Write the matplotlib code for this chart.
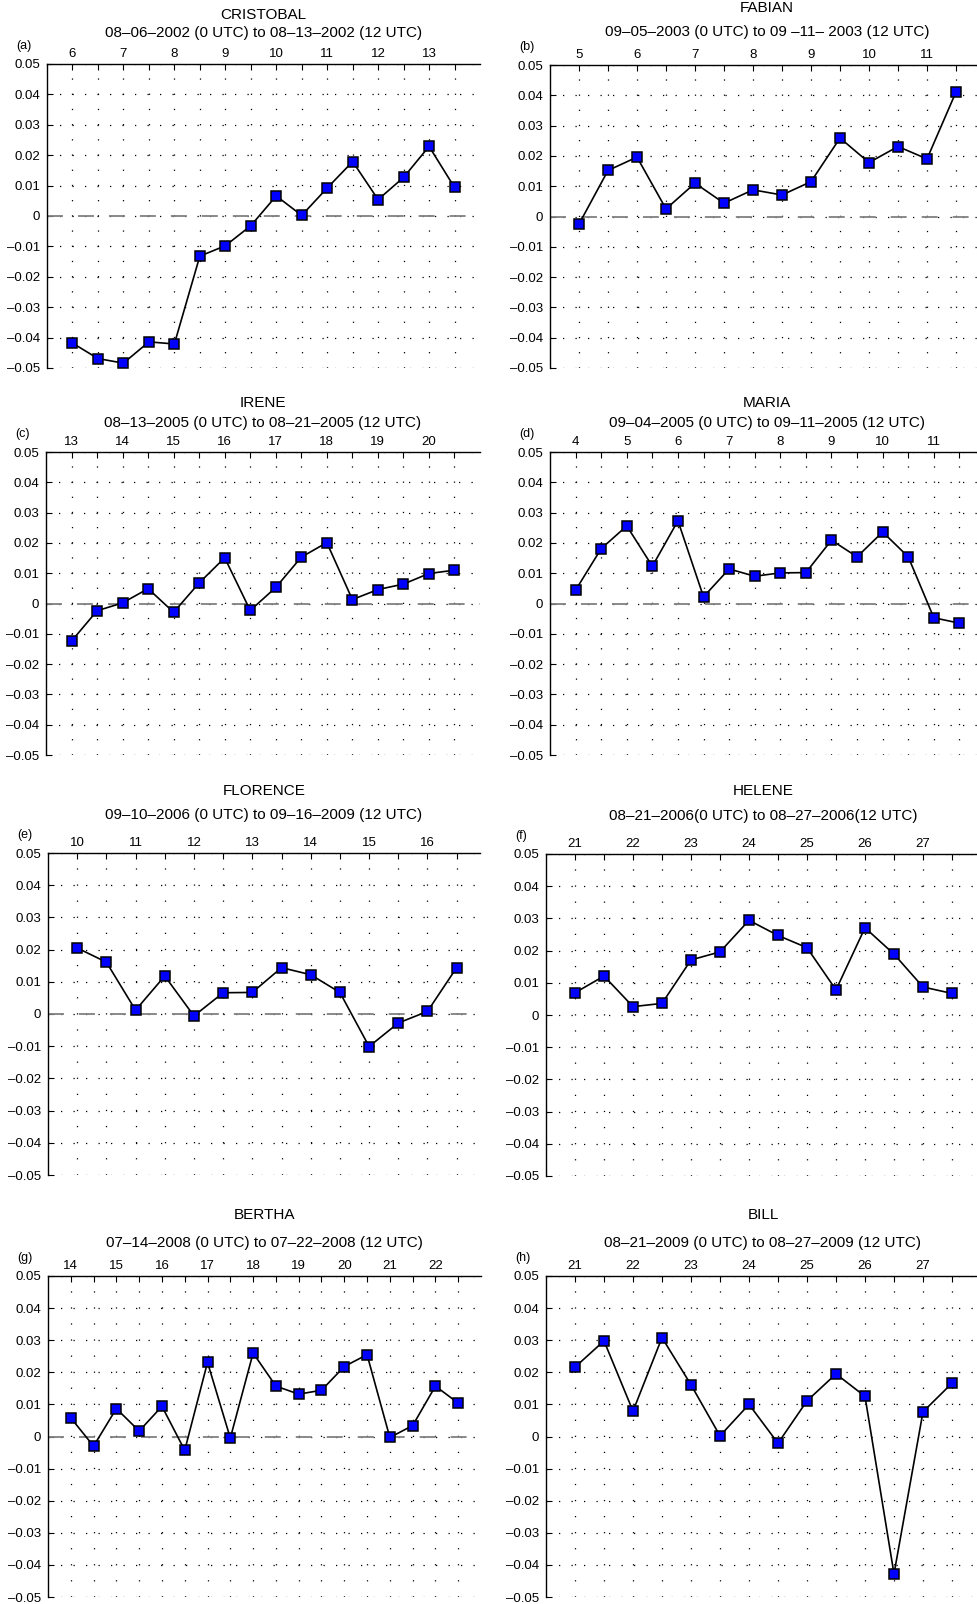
import numpy as np
import matplotlib
matplotlib.use('Agg')
import matplotlib.pyplot as plt
from matplotlib.ticker import MultipleLocator, FixedLocator, FuncFormatter, NullFormatter

plt.rcParams['font.family'] = ['Liberation Sans', 'DejaVu Sans']
plt.rcParams['lines.scale_dashes'] = False

# storms and their 12-hourly series
names = ['CRISTOBAL', 'FABIAN', 'IRENE', 'MARIA',
         'FLORENCE', 'HELENE', 'BERTHA', 'BILL']
periods = ['08\u201306\u20132002 (0 UTC) to 08\u201313\u20132002 (12 UTC)',
           '09\u201305\u20132003 (0 UTC) to 09 \u201311\u2013 2003 (12 UTC)',
           '08\u201313\u20132005 (0 UTC) to 08\u201321\u20132005 (12 UTC)',
           '09\u201304\u20132005 (0 UTC) to 09\u201311\u20132005 (12 UTC)',
           '09\u201310\u20132006 (0 UTC) to 09\u201316\u20132009 (12 UTC)',
           '08\u201321\u20132006(0 UTC) to 08\u201327\u20132006(12 UTC)',
           '07\u201314\u20132008 (0 UTC) to 07\u201322\u20132008 (12 UTC)',
           '08\u201321\u20132009 (0 UTC) to 08\u201327\u20132009 (12 UTC)']
tags = ['(a)', '(b)', '(c)', '(d)', '(e)', '(f)', '(g)', '(h)']
first_day = [6, 5, 13, 4, 10, 21, 14, 21]
xlims = [(5.5, 14), (4.5, 12), (12.5, 21), (3.5, 12),
         (9.5, 16.9), (20.5, 28), (13.5, 23), (20.5, 28)]
zero_line = [True, True, True, True, True, False, True, False]

cristobal = [-0.0418, -0.0469, -0.0484, -0.0414, -0.0421, -0.0132, -0.0098, -0.0032,
             0.0066, 0.0002, 0.0092, 0.0179, 0.0054, 0.0127, 0.0229, 0.0094]
fabian = [-0.0025, 0.0152, 0.0196, 0.0025, 0.0110, 0.0044, 0.0088, 0.0071,
          0.0115, 0.0259, 0.0178, 0.0231, 0.0190, 0.0411]
irene = [-0.0124, -0.0024, 0.0002, 0.0049, -0.0029, 0.0068, 0.0151, -0.0023,
         0.0053, 0.0153, 0.0201, 0.0013, 0.0046, 0.0064, 0.0099, 0.0110]
maria = [0.0044, 0.0181, 0.0256, 0.0123, 0.0273, 0.0022, 0.0114, 0.0090,
         0.0101, 0.0102, 0.0209, 0.0154, 0.0236, 0.0154, -0.0047, -0.0065]
florence = [0.0205, 0.0161, 0.0012, 0.0118, -0.0006, 0.0066, 0.0067, 0.0144,
            0.0122, 0.0067, -0.0101, -0.0028, 0.0008, 0.0144]
helene = [0.0069, 0.0121, 0.0026, 0.0036, 0.0171, 0.0196, 0.0294, 0.0247,
          0.0209, 0.0078, 0.0271, 0.0189, 0.0087, 0.0067]
bertha = [0.0058, -0.0030, 0.0087, 0.0017, 0.0094, -0.0043, 0.0231, -0.0005, 0.0260,
          0.0157, 0.0132, 0.0144, 0.0218, 0.0255, -0.0003, 0.0034, 0.0157, 0.0104]
bill = [0.0216, 0.0298, 0.0079, 0.0308, 0.0161, 0.0002, 0.0100, -0.0021,
        0.0111, 0.0195, 0.0125, -0.0428, 0.0077, 0.0166]
series = [cristobal, fabian, irene, maria, florence, helene, bertha, bill]

W, H = 978, 1604
fig = plt.figure(figsize=(W / 100, H / 100), dpi=100)

# axes boxes in pixels: left, top, width, height
boxes = [(47, 64, 433, 304), (550, 65, 435, 303),
         (46, 452, 434, 303), (550, 452, 435, 303),
         (48, 853, 432, 322), (546, 854, 435, 322),
         (48, 1276, 433, 321), (546, 1276, 435, 321)]
# title rows above each box (name, period), pixels above the top spine
title_off = [(49, 31), (57, 33), (49, 29), (49, 29),
             (62, 38), (63, 38), (61, 33), (61, 33)]


def ytick_fmt(v, pos):
    if abs(v) < 1e-9:
        return '0'
    return ('%.2f' % v).replace('-', '\u2013')


for i in range(8):
    l, t, w, h = boxes[i]
    ax = fig.add_axes([l / W, 1 - (t + h) / H, w / W, h / H])
    y = series[i]
    x = first_day[i] + 0.5 * np.arange(len(y))

    ax.set_xlim(*xlims[i])
    ax.set_ylim(-0.05, 0.05)
    for s in ['right', 'bottom']:
        ax.spines[s].set_visible(False)
    for s in ['left', 'top']:
        ax.spines[s].set_linewidth(1.0)

    # ticks every 12 h over the record, labels on whole days
    days = x[x == np.floor(x)]
    ax.xaxis.tick_top()
    ax.xaxis.set_major_locator(FixedLocator(days))
    ax.xaxis.set_minor_locator(FixedLocator(x[x != np.floor(x)]))
    ax.xaxis.set_major_formatter(FuncFormatter(lambda v, p: '%d' % v))
    ax.xaxis.set_minor_formatter(NullFormatter())
    ax.yaxis.set_major_locator(MultipleLocator(0.01))
    ax.yaxis.set_major_formatter(FuncFormatter(ytick_fmt))
    ax.tick_params(axis='x', which='both', direction='in', length=4, width=0.8,
                   top=True, bottom=False, labeltop=True, labelbottom=False,
                   labelsize=9.5, pad=3)
    ax.tick_params(axis='y', direction='in', length=4, width=0.8,
                   left=True, right=False, labelsize=9.5, pad=5)

    # dotted grid: vertical dots every 0.005, horizontal rows every 0.01
    vgap = h / 20 * 0.72
    ax.grid(axis='x', which='both', color='black', linewidth=0.9,
            linestyle=(0, (0.9, vgap - 0.9)))
    ax.grid(axis='y', which='major', color='black', linewidth=0.9,
            linestyle=(0, (0.9, 8.1)))

    if zero_line[i]:
        ax.axhline(0, color='#808080', linewidth=1.3, dashes=(11.5, 10.8), zorder=2)

    ax.plot(x, y, '-', color='black', linewidth=1.2, marker='s', markersize=7,
            markerfacecolor='#0000ff', markeredgecolor='black', markeredgewidth=1.1,
            zorder=3, clip_on=False)

    cx = (l + w / 2) / W
    if i % 2 == 1:
        cx = (l + 217) / W
    fig.text(cx, 1 - (t - title_off[i][0]) / H, names[i], ha='center', va='center',
             fontsize=11)
    fig.text(cx, 1 - (t - title_off[i][1]) / H, periods[i], ha='center', va='center',
             fontsize=11)
    fig.text((l - 31) / W, 1 - (t - 18) / H, tags[i], ha='left', va='center',
             fontsize=9)

fig.savefig('out.png', dpi=100)
